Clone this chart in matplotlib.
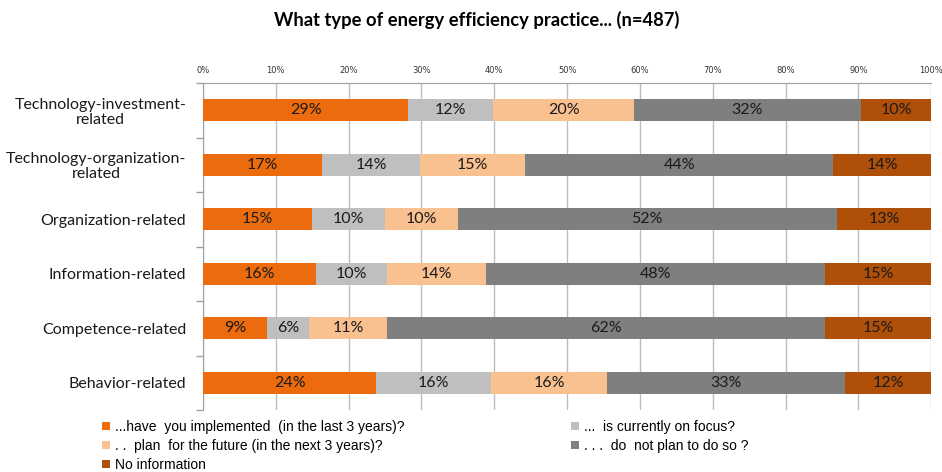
import matplotlib
matplotlib.use("Agg")
import matplotlib.pyplot as plt
import numpy as np
from matplotlib.ticker import FixedLocator, NullFormatter

categories = ["Technology-investment-\nrelated", "Technology-organization-\nrelated",
              "Organization-related", "Information-related", "Competence-related",
              "Behavior-related"]
series_names = ["...have  you implemented  (in the last 3 years)?",
                "...  is currently on focus?",
                ". .  plan  for the future (in the next 3 years)?",
                ". . .  do  not plan to do so ?",
                "No information"]
implemented = [29, 17, 15, 16, 9, 24]
on_focus = [12, 14, 10, 10, 6, 16]
plan_future = [20, 15, 10, 14, 11, 16]
no_plan = [32, 44, 52, 48, 62, 33]
no_info = [10, 14, 13, 15, 15, 12]
colors = ["#EC6B0C", "#BFBFBF", "#F9C090", "#7F7F7F", "#B04F08"]
xticklabels = ["0%", "10%", "20%", "30%", "40%", "50%", "60%", "70%", "80%", "90%", "100%"]

data = np.array([implemented, on_focus, plan_future, no_plan, no_info], dtype=float)
totals = data.sum(axis=0)
shares = data / totals * 100

fig = plt.figure(figsize=(9.42, 4.72), dpi=100)
ax = fig.add_axes([203/942, 1-410/472, (931.3-203)/942, (410-83)/472])

y = np.arange(len(categories))
left = np.zeros(len(categories))
bars = []
for i in range(len(series_names)):
    b = ax.barh(y, shares[i], left=left, height=0.40, color=colors[i],
                label=series_names[i], zorder=3)
    bars.append(b)
    for j in range(len(categories)):
        ax.text(left[j] + shares[i][j]/2, y[j], f"{int(data[i][j])}%",
                ha="center", va="center", fontsize=11.5, family="Lato",
                color="#1a1a1a", zorder=4)
    left += shares[i]

ax.set_xlim(0, 100)
ax.set_ylim(len(categories)-0.5, -0.5)
ax.xaxis.tick_top()
ax.set_xticks(np.arange(0, 101, 10))
ax.set_xticklabels(xticklabels, fontsize=6, family="DejaVu Sans", color="#333333")
ax.tick_params(axis="x", length=0, pad=6)
ax.grid(axis="x", color="#BDBDBD", linewidth=1.0, zorder=0)

ax.set_yticks(y)
ax.set_yticklabels(categories, fontsize=11.5, family="Lato", color="#1a1a1a",
                   multialignment="center", linespacing=1.1)
ax.tick_params(axis="y", which="major", length=0, pad=12)
ax.yaxis.set_minor_locator(FixedLocator(np.arange(-0.5, len(categories), 1.0)))
ax.yaxis.set_minor_formatter(NullFormatter())
ax.tick_params(axis="y", which="minor", length=5, color="#A0A0A0", width=1)

for s in ["right", "bottom"]:
    ax.spines[s].set_visible(False)
ax.spines["top"].set_color("#A0A0A0")
ax.spines["left"].set_color("#A0A0A0")

fig.text(477/942, 1-20/472, "What type of energy efficiency practice... (n=487)",
         ha="center", va="center", fontsize=13.2, fontweight="bold", family="Lato")

lfont = {"family": ["Liberation Sans", "DejaVu Sans"], "size": 10}
leg1 = fig.legend([bars[0], bars[2], bars[4]],
                  [series_names[0], series_names[2], series_names[4]],
                  loc="upper left", bbox_to_anchor=(95/942, 1-413/472),
                  frameon=False, borderpad=0, prop=lfont, handlelength=0.6,
                  handleheight=0.6, handletextpad=0.35, labelspacing=0.36)
leg2 = fig.legend([bars[1], bars[3]], [series_names[1], series_names[3]],
                  loc="upper left", bbox_to_anchor=(564/942, 1-413/472),
                  frameon=False, borderpad=0, prop=lfont, handlelength=0.6,
                  handleheight=0.6, handletextpad=0.35, labelspacing=0.36)

fig.savefig("out.png", dpi=100)
